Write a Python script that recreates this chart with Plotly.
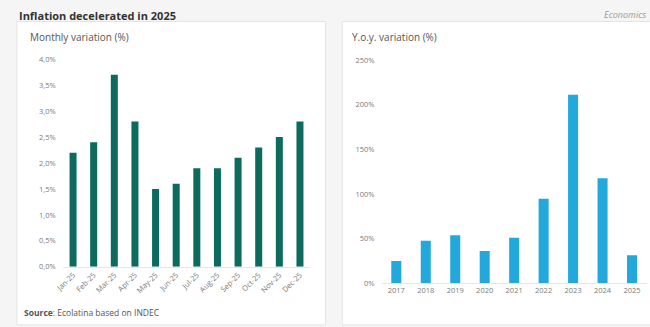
import plotly.graph_objects as go

# Monthly CPI variation, 2025 (%)
months = ["Jan-25", "Feb-25", "Mar-25", "Apr-25", "May-25", "Jun-25",
          "Jul-25", "Aug-25", "Sep-25", "Oct-25", "Nov-25", "Dec-25"]
monthly = [2.2, 2.4, 3.7, 2.8, 1.5, 1.6, 1.9, 1.9, 2.1, 2.3, 2.5, 2.8]
monthly_ticks = [0, 0.5, 1.0, 1.5, 2.0, 2.5, 3.0, 3.5, 4.0]
monthly_ticktext = ["0,0%", "0,5%", "1,0%", "1,5%", "2,0%", "2,5%", "3,0%", "3,5%", "4,0%"]

# Year-over-year CPI variation (%)
years = ["2017", "2018", "2019", "2020", "2021", "2022", "2023", "2024", "2025"]
yoy = [24.8, 47.6, 53.8, 36.1, 50.9, 94.8, 211.4, 117.8, 31.5]
yoy_ticks = [0, 50, 100, 150, 200, 250]
yoy_ticktext = ["0%", "50%", "100%", "150%", "200%", "250%"]

W, H = 650, 327
FONT = "Open Sans"
TICK_COLOR = "#7a7a7a"


def px_x(p):
    return p / W


def px_y(p):
    return 1 - p / H


fig = go.Figure()

fig.add_trace(go.Bar(
    x=months, y=monthly, xaxis="x", yaxis="y",
    marker=dict(color="#0d6b5e", line=dict(width=0)),
    width=0.34, hoverinfo="x+y", showlegend=False,
))
fig.add_trace(go.Bar(
    x=years, y=yoy, xaxis="x2", yaxis="y2",
    marker=dict(color="#23a8dc", line=dict(width=0)),
    width=0.34, hoverinfo="x+y", showlegend=False,
))

# white cards behind each chart
shapes = [
    dict(type="rect", xref="paper", yref="paper", layer="below",
         x0=px_x(8), x1=px_x(321), y0=px_y(330), y1=px_y(17),
         fillcolor="white", line=dict(color="#e4e4e4", width=1)),
    dict(type="rect", xref="paper", yref="paper", layer="below",
         x0=px_x(338), x1=px_x(652), y0=px_y(330), y1=px_y(17),
         fillcolor="white", line=dict(color="#e4e4e4", width=1)),
]

annotations = [
    dict(text="Inflation decelerated in 2025", xref="paper", yref="paper",
         x=px_x(8), y=px_y(1), xanchor="left", yanchor="top", showarrow=False,
         font=dict(family=FONT, size=11, color="#333333", weight="bold")),
    dict(text="<i>Economics</i>", xref="paper", yref="paper",
         x=px_x(648), y=px_y(1), xanchor="right", yanchor="top", showarrow=False,
         font=dict(family=FONT, size=9, color="#9a9a9a")),
    dict(text="Monthly variation (%)", xref="paper", yref="paper",
         x=px_x(19), y=px_y(33), xanchor="left", yanchor="middle", showarrow=False,
         font=dict(family=FONT, size=10, color="#555555")),
    dict(text="Y.o.y. variation (%)", xref="paper", yref="paper",
         x=px_x(346), y=px_y(33), xanchor="left", yanchor="middle", showarrow=False,
         font=dict(family=FONT, size=10, color="#555555")),
    dict(text="<b>Source</b>: Ecolatina based on INDEC", xref="paper", yref="paper",
         x=px_x(13), y=px_y(317), xanchor="left", yanchor="middle", showarrow=False,
         font=dict(family=FONT, size=8.5, color="#555555")),
]

fig.update_layout(
    width=W, height=H,
    margin=dict(l=0, r=0, t=0, b=0),
    paper_bgcolor="#f5f5f5",
    plot_bgcolor="rgba(0,0,0,0)",
    font=dict(family=FONT, color=TICK_COLOR),
    bargap=0.66,
    shapes=shapes,
    annotations=annotations,
    xaxis=dict(
        domain=[px_x(54.5), px_x(305.5)], range=[-0.5, 11.5], anchor="y",
        type="category", tickangle=-45, tickfont=dict(size=7.5, color=TICK_COLOR),
        showline=True, linecolor="#e6e6e6", linewidth=1, ticks="", showgrid=False,
        fixedrange=True,
    ),
    yaxis=dict(
        domain=[px_y(270), px_y(56)], range=[0, 4.0], anchor="x",
        tickvals=monthly_ticks, ticktext=monthly_ticktext,
        tickfont=dict(size=7.5, color=TICK_COLOR), ticklabelstandoff=6,
        showgrid=False, zeroline=False, showline=False, ticks="",
        fixedrange=True,
    ),
    xaxis2=dict(
        domain=[px_x(377.8), px_x(646.7)], range=[-0.5, 8.5], anchor="y2",
        type="category", tickfont=dict(size=7.5, color=TICK_COLOR),
        showline=True, linecolor="#e6e6e6", linewidth=1, ticks="", showgrid=False,
        fixedrange=True,
    ),
    yaxis2=dict(
        domain=[px_y(287), px_y(57)], range=[0, 250], anchor="x2",
        tickvals=yoy_ticks, ticktext=yoy_ticktext,
        tickfont=dict(size=7.5, color=TICK_COLOR), ticklabelstandoff=6,
        showgrid=False, zeroline=False, showline=False, ticks="",
        fixedrange=True,
    ),
)

fig.write_html("out.html")
